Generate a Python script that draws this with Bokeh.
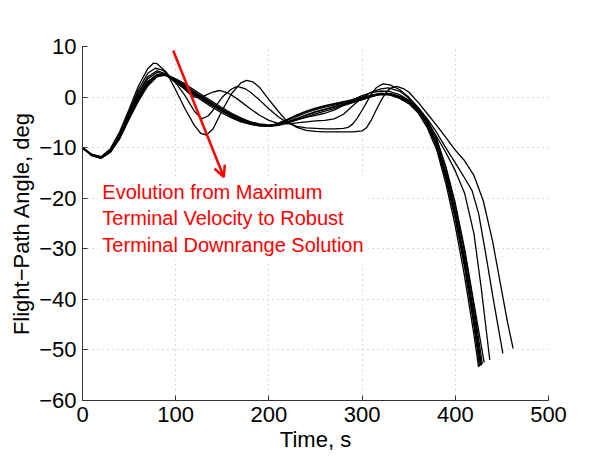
from bokeh.plotting import figure
from bokeh.models import Range1d, FixedTicker, Label, Arrow, OpenHead
from bokeh.embed import file_html
from bokeh.resources import INLINE

# ---------------- data ----------------
x_ticks = [0, 100, 200, 300, 400, 500]
y_ticks = [-60, -50, -40, -30, -20, -10, 0, 10]
x_title = "Time, s"
y_title = "Flight\u2212Path Angle, deg"
note_lines = ["Evolution from Maximum", "Terminal Velocity to Robust", "Terminal Downrange Solution"]
note_xy = [17.0, -15.8]
arrow_from = [97.3, 9.2]
arrow_to = [151.6, -15.8]

grid_t = [0, 10, 20, 30, 40, 50, 60, 70, 80, 90, 100, 110, 120, 130, 140, 150, 160, 170, 180, 190,
          200, 210, 220, 230, 240, 250, 260, 270, 280, 290, 300, 310, 320, 330, 340, 350, 360, 370,
          380, 390, 400, 410, 420]

# outlier curves (from max terminal velocity toward robust)
a_t = [0, 10, 20, 30, 40, 50, 60, 70, 76, 80, 90, 100, 110, 120, 127, 133, 140, 150, 160, 170, 176, 183,
       190, 200, 210, 220, 230, 240, 250, 260, 270, 280, 290, 300, 305, 310, 315, 320, 325, 330, 337, 345,
       350, 360, 370, 380, 390, 400, 410, 420, 430, 440, 450, 456, 462]
a_y = [-10, -11.3, -11.8, -10.2, -6.8, -2.4, 2.2, 5.6, 6.7, 6.6, 4.9, 1.4, -2.3, -5.6, -7.2, -7.5, -6.3, -2.6,
       0.7, 2.8, 3.3, 3.0, 1.9, -0.5, -2.8, -4.9, -6.0, -6.6, -6.8, -6.9, -6.9, -6.9, -6.9, -6.7, -6.0, -4.5,
       -2.6, -0.8, 0.7, 1.7, 2.1, 1.6, 1.0, -1.0, -3.3, -5.6, -8.0, -10.5, -12.6, -15.5, -20.5, -28.5, -38.5,
       -44.5, -49.7]

b_t = [0, 10, 20, 30, 40, 50, 60, 70, 78, 85, 90, 100, 110, 120, 128, 135, 140, 150, 160, 166, 175, 180,
       190, 200, 210, 220, 230, 240, 250, 260, 270, 280, 285, 290, 295, 300, 305, 310, 315, 320, 323, 330,
       340, 350, 360, 370, 380, 390, 400, 410, 418, 425, 432, 441, 451]
b_y = [-10, -11.4, -11.9, -10.4, -7.2, -2.9, 1.5, 4.7, 5.7, 5.4, 4.8, 2.8, 0.3, -2.8, -4.3, -3.7, -2.6, 0.0,
       1.6, 2.1, 1.6, 1.0, -0.6, -2.3, -3.9, -5.1, -5.8, -6.1, -6.2, -6.3, -6.3, -6.2, -6.0, -5.3, -4.1, -2.6,
       -1.0, 0.6, 1.8, 2.4, 2.6, 2.4, 1.5, 0.0, -2.0, -4.3, -7.0, -10.1, -13.0, -16.0, -18.5, -23.0, -30.3,
       -40.2, -50.7]

c_t = [0, 10, 20, 30, 40, 50, 60, 70, 80, 90, 100, 110, 115, 120, 125, 130, 140, 147, 155, 160, 170, 180,
       190, 200, 210, 220, 230, 240, 250, 260, 270, 280, 290, 300, 310, 320, 328, 340, 350, 360, 370, 380,
       390, 400, 410, 420, 428, 437]
c_y = [-10, -11.5, -12.0, -10.5, -7.4, -3.2, 1.0, 4.0, 5.2, 4.6, 3.2, 1.5, 0.6, 0.0, -0.1, 0.2, 1.0, 1.3,
       0.9, 0.4, -0.9, -2.3, -3.6, -4.6, -5.2, -5.3, -5.1, -4.9, -4.7, -4.6, -4.3, -3.4, -1.7, -0.1, 1.0,
       1.6, 1.8, 1.2, -0.2, -2.2, -4.8, -7.8, -11.0, -14.6, -19.0, -27.0, -38.0, -52.0]

d_end = [431, -52.5]
d_y = [-10, -11.5, -12.0, -10.6, -7.6, -3.4, 0.6, 3.6, 4.9, 4.4, 3.0, 1.6, 0.5, -0.5, -1.6, -2.6, -3.5,
       -4.3, -4.9, -5.3, -5.5, -5.4, -5.0, -4.5, -4.0, -3.6, -3.2, -2.6, -1.6, -0.5, 0.3, 0.9, 1.2, 1.1,
       0.5, -0.6, -2.2, -4.7, -8.3, -13.8, -21.0, -30.0, -40.8]

# robust bundle
b1_end = [426, -53.2]
b1_y = [-10, -11.5, -12.0, -10.6, -7.7, -3.7, 0.0, 2.9, 4.4, 4.3, 3.1, 1.9, 0.6, -0.6, -1.8, -2.9, -3.9,
        -4.7, -5.3, -5.7, -5.8, -5.4, -4.6, -3.8, -3.1, -2.5, -2.0, -1.6, -1.2, -0.7, -0.3, 0.2, 0.5, 0.4,
        -0.2, -1.2, -2.9, -5.7, -9.8, -16.3, -24.2, -33.8, -45.3]
b2_end = [428, -53.0]
b2_y = [-10, -11.6, -12.1, -10.9, -8.1, -4.2, -0.5, 2.5, 4.2, 4.4, 3.4, 2.2, 0.9, -0.3, -1.5, -2.6, -3.6,
        -4.5, -5.1, -5.5, -5.7, -5.5, -4.9, -4.2, -3.5, -2.9, -2.4, -1.9, -1.4, -0.9, -0.4, 0.2, 0.7, 0.7,
        0.1, -0.9, -2.5, -5.1, -9.0, -15.0, -22.6, -31.8, -42.8]
b3_end = [427, -53.0]
b3_y = [-10, -11.5, -12.0, -10.7, -7.9, -3.9, -0.2, 2.7, 4.4, 4.5, 3.5, 2.4, 1.1, -0.1, -1.3, -2.4, -3.4,
        -4.3, -5.0, -5.5, -5.7, -5.2, -4.4, -3.6, -2.9, -2.3, -1.8, -1.4, -1.0, -0.6, -0.1, 0.4, 0.8, 0.6,
        -0.1, -1.1, -2.8, -5.5, -9.5, -15.8, -23.6, -33.0, -44.2]
b4_end = [429, -52.8]
b4_y = [-10, -11.6, -12.1, -10.9, -8.2, -4.4, -0.8, 2.2, 4.0, 4.4, 3.6, 2.6, 1.4, 0.2, -1.0, -2.1, -3.2,
        -4.1, -4.9, -5.4, -5.7, -5.6, -5.0, -4.3, -3.6, -3.0, -2.5, -2.0, -1.5, -1.0, -0.5, 0.1, 0.6, 0.7,
        0.2, -0.7, -2.2, -4.6, -8.4, -14.2, -21.6, -30.6, -41.5]
b5_end = [425, -53.4]
b5_y = [-10, -11.4, -11.9, -10.5, -7.5, -3.5, 0.2, 3.1, 4.5, 4.2, 2.9, 1.6, 0.3, -0.9, -2.1, -3.2, -4.1,
        -4.9, -5.4, -5.7, -5.7, -5.2, -4.4, -3.5, -2.8, -2.2, -1.7, -1.3, -0.9, -0.5, 0.0, 0.4, 0.7, 0.5,
        -0.2, -1.3, -3.1, -6.1, -10.4, -17.2, -25.5, -35.5, -47.0]
b6_end = [427.5, -53.1]
b6_y = [-10, -11.5, -12.0, -10.8, -8.0, -4.0, -0.3, 2.6, 4.3, 4.4, 3.3, 2.1, 0.8, -0.4, -1.6, -2.7, -3.7,
        -4.6, -5.2, -5.6, -5.8, -5.6, -5.1, -4.5, -3.9, -3.3, -2.8, -2.3, -1.7, -1.1, -0.5, 0.1, 0.6, 0.6,
        0.0, -1.0, -2.6, -5.3, -9.2, -15.4, -23.2, -32.6, -43.8]

# ---------------- figure ----------------
FONT = "Liberation Sans"
p = figure(width=598, height=457, x_range=Range1d(0, 500), y_range=Range1d(-60, 10),
           output_backend="svg", toolbar_location=None,
           min_border_left=82, min_border_right=50, min_border_top=46, min_border_bottom=57)
p.outline_line_color = None
p.background_fill_color = "white"
p.border_fill_color = "white"

for ax, ticks in ((p.xaxis[0], x_ticks), (p.yaxis[0], y_ticks)):
    ax.ticker = FixedTicker(ticks=ticks)
    ax.major_label_overrides = {v: (str(v).replace("-", "\u2212")) for v in ticks}
    ax.major_label_text_font = FONT
    ax.major_label_text_font_size = "22px"
    ax.major_label_text_color = "black"
    ax.axis_label_text_font = FONT
    ax.axis_label_text_font_size = "22px"
    ax.axis_label_text_font_style = "normal"
    ax.axis_label_text_color = "black"
    ax.axis_line_color = "#333333"
    ax.major_tick_line_color = "#333333"
    ax.major_tick_in = 5
    ax.major_tick_out = 0
    ax.minor_tick_line_color = None
    ax.major_label_standoff = 6
    ax.axis_label_standoff = 2
p.xaxis.axis_label = x_title
p.yaxis.axis_label = y_title

for g, ticks in ((p.xgrid[0], x_ticks), (p.ygrid[0], y_ticks)):
    g.ticker = FixedTicker(ticks=ticks)
    g.grid_line_color = "#b4b4b4"
    g.grid_line_dash = "1 4"
    g.grid_line_width = 1

LW = 1.3
p.line(a_t, a_y, line_color="black", line_width=LW)
p.line(b_t, b_y, line_color="black", line_width=LW)
p.line(c_t, c_y, line_color="black", line_width=LW)
p.line(grid_t + [d_end[0]], d_y + [d_end[1]], line_color="black", line_width=LW)
for ys, end in ((b1_y, b1_end), (b2_y, b2_end), (b3_y, b3_end), (b4_y, b4_end), (b5_y, b5_end), (b6_y, b6_end)):
    p.line(grid_t + [end[0]], ys + [end[1]], line_color="black", line_width=LW)

note = Label(x=note_xy[0], y=note_xy[1], text="\n".join(note_lines), text_color="red",
             text_font=FONT, text_font_size="20px", text_baseline="top", text_align="left",
             text_line_height=1.2, background_fill_color="white", padding=4)
p.add_layout(note)

arr = Arrow(x_start=arrow_from[0], y_start=arrow_from[1], x_end=arrow_to[0], y_end=arrow_to[1],
            line_color="red", line_width=2.5,
            end=OpenHead(size=11, line_color="red", line_width=2.5))
p.add_layout(arr)

open("out.html", "w").write(file_html(p, INLINE))
